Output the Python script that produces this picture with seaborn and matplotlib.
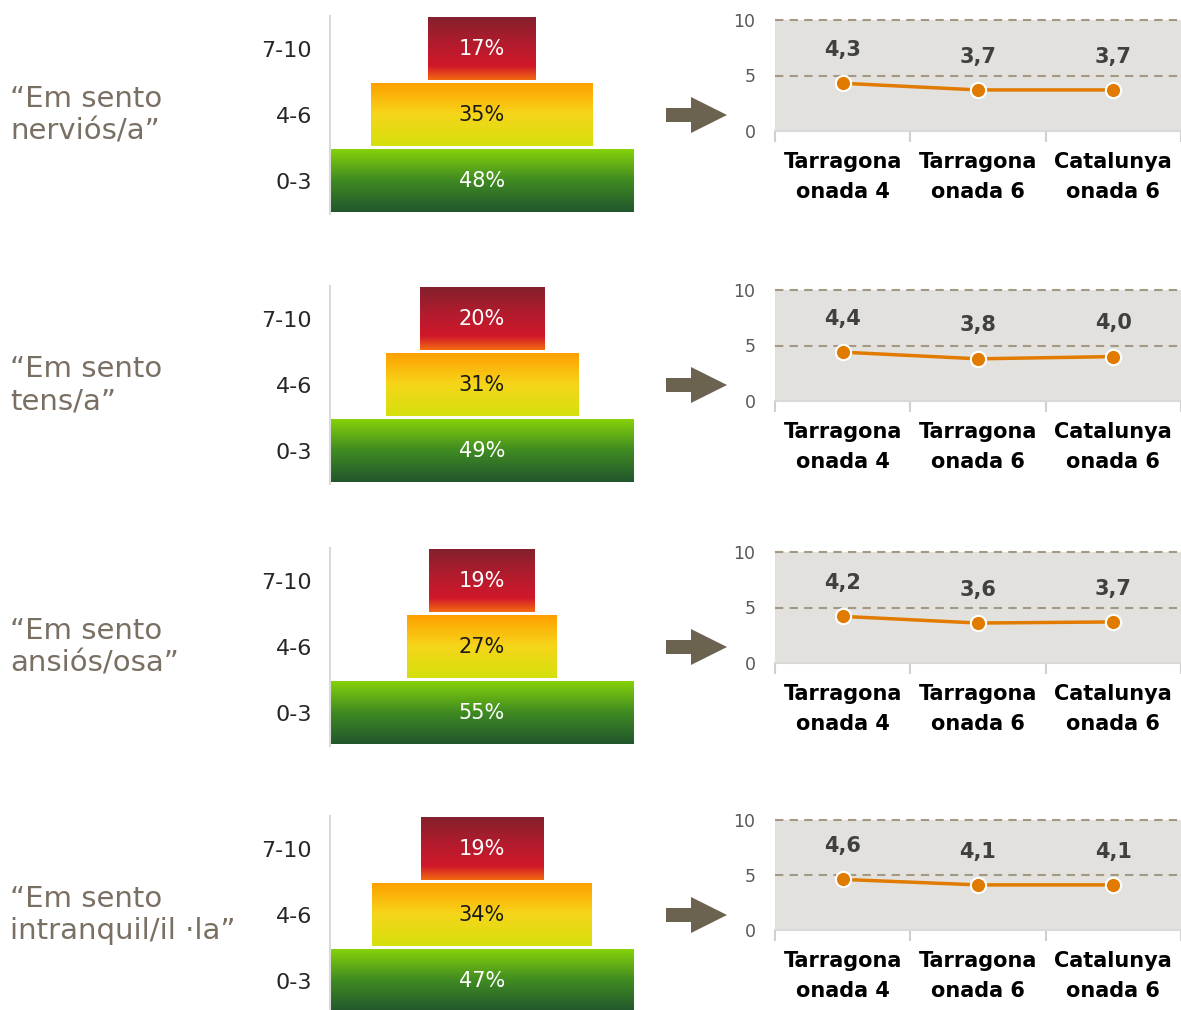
import numpy as np
import pandas as pd
import matplotlib.pyplot as plt
import seaborn as sns
from matplotlib.colors import LinearSegmentedColormap
from matplotlib.patches import Polygon

# --- dades ---
items = ["“Em sento\nnerviós/a”", "“Em sento\ntens/a”",
         "“Em sento\nansiós/osa”", "“Em sento\nintranquil/il ·la”"]
bands = ["0-3", "4-6", "7-10"]          # de baix a dalt
pct_low = [48, 49, 55, 47]
pct_mid = [35, 31, 27, 34]
pct_high = [17, 20, 19, 19]
waves = ["Tarragona\nonada 4", "Tarragona\nonada 6", "Catalunya\nonada 6"]
score_nervios = [4.3, 3.7, 3.7]
score_tens = [4.4, 3.8, 4.0]
score_ansios = [4.2, 3.6, 3.7]
score_intranquil = [4.6, 4.1, 4.1]
scores = [score_nervios, score_tens, score_ansios, score_intranquil]

W, H = 1181, 1010
sns.set_theme(style="white")
plt.rcParams["font.family"] = ["DejaVu Sans"]

# degradats (de baix a dalt)
grad_low = LinearSegmentedColormap.from_list("g", ["#21562d", "#3f8a22", "#86d20a"])
grad_mid = LinearSegmentedColormap.from_list("y", ["#d4e00c", "#f6d61a", "#ffa000"])
grad_high = LinearSegmentedColormap.from_list(
    "r", [(0, "#f36b10"), (0.22, "#d1182a"), (0.6, "#b01c2e"), (1, "#84202c")])
band_cmaps = [grad_low, grad_mid, grad_high]
text_cols = ["white", "#1a1a1a", "white"]


def fig_box(x0, y0, x1, y1):
    return [x0 / W, 1 - y1 / H, (x1 - x0) / W, (y1 - y0) / H]


fig = plt.figure(figsize=(W / 100, H / 100), dpi=100)

centers = [115, 385, 647, 915]
line_top = [20, 290, 552, 820]
line_bot = [131, 401, 663, 930]
grad = np.linspace(0, 1, 256).reshape(-1, 1)

for i in range(4):
    c = centers[i]
    vals = [pct_low[i], pct_mid[i], pct_high[i]]
    vmax = max(vals)

    # piràmide
    ax = fig.add_axes(fig_box(330, c - 99, 634, c + 99))
    pos = np.arange(len(bands))
    bars = ax.barh(pos, vals, left=[-v / 2 for v in vals], height=0.95,
                   color="none", edgecolor="none")
    for j, b in enumerate(bars):
        x0, y0 = b.get_x(), b.get_y()
        ax.imshow(grad, cmap=band_cmaps[j], origin="lower", aspect="auto",
                  extent=[x0, x0 + b.get_width(), y0, y0 + b.get_height()],
                  zorder=2)
        ax.text(0, pos[j], f"{vals[j]}%", ha="center", va="center",
                color=text_cols[j], fontsize=15, zorder=3)
    ax.set_xlim(-vmax / 2, vmax / 2)
    ax.set_ylim(-0.5, 2.5)
    ax.set_yticks(pos)
    ax.set_yticklabels(bands, fontsize=16, color="#262626")
    ax.set_xticks([])
    ax.tick_params(axis="y", length=0, pad=13)
    for s in ["top", "right", "bottom"]:
        ax.spines[s].set_visible(False)
    ax.spines["left"].set_color("#d9d9d9")
    ax.spines["left"].set_linewidth(1.5)

    # etiqueta de l'ítem
    fig.text(10 / W, 1 - c / H, items[i], ha="left", va="center",
             fontsize=21, color="#7a6f63", linespacing=1.2)

    # fletxa
    pts = [(666, c - 7), (691, c - 7), (691, c - 18), (727, c),
           (691, c + 18), (691, c + 7), (666, c + 7)]
    fig.add_artist(Polygon([(x / W, 1 - y / H) for x, y in pts],
                           closed=True, transform=fig.transFigure,
                           facecolor="#6b6350", edgecolor="none"))

    # gràfic de línia
    lx = fig.add_axes(fig_box(775, line_top[i], 1181, line_bot[i]))
    lx.set_facecolor("#e3e1de")
    df = pd.DataFrame({"onada": waves, "valor": scores[i]})
    sns.lineplot(data=df, x="onada", y="valor", ax=lx, color="#e07b00",
                 linewidth=2.5, marker="o", markersize=11,
                 markeredgecolor="white", markeredgewidth=1.5, zorder=4)
    for k, v in enumerate(scores[i]):
        lx.annotate(f"{v:.1f}".replace(".", ","), (k, v), xytext=(0, 24),
                    textcoords="offset points", ha="center", va="center",
                    fontsize=15, fontweight="bold", color="#404040")
    for yv in [5, 10]:
        lx.axhline(yv, color="#a39883", lw=1.5, ls=(0, (4, 3)),
                   clip_on=False, zorder=2)
    lx.set_ylim(0, 10)
    lx.set_xlim(-0.5, 2.5)
    lx.set_yticks([0, 5, 10])
    lx.set_yticklabels(["0", "5", "10"], fontsize=12.5, color="#595959")
    lx.set_xticks(range(3))
    lx.set_xticklabels(waves, fontsize=15, fontweight="bold",
                       color="black", linespacing=1.62)
    lx.set_xticks([-0.5, 0.5, 1.5, 2.5], minor=True)
    lx.tick_params(axis="x", which="major", length=0, pad=15)
    lx.tick_params(axis="x", which="minor", length=8, width=1.5,
                   color="#d0d0d0", bottom=True)
    lx.tick_params(axis="y", length=0, pad=14)
    lx.set_xlabel("")
    lx.set_ylabel("")
    for s in ["top", "right", "left"]:
        lx.spines[s].set_visible(False)
    lx.spines["bottom"].set_color("#d9d9d9")
    lx.spines["bottom"].set_linewidth(1.5)

fig.savefig("out.png", dpi=100)
